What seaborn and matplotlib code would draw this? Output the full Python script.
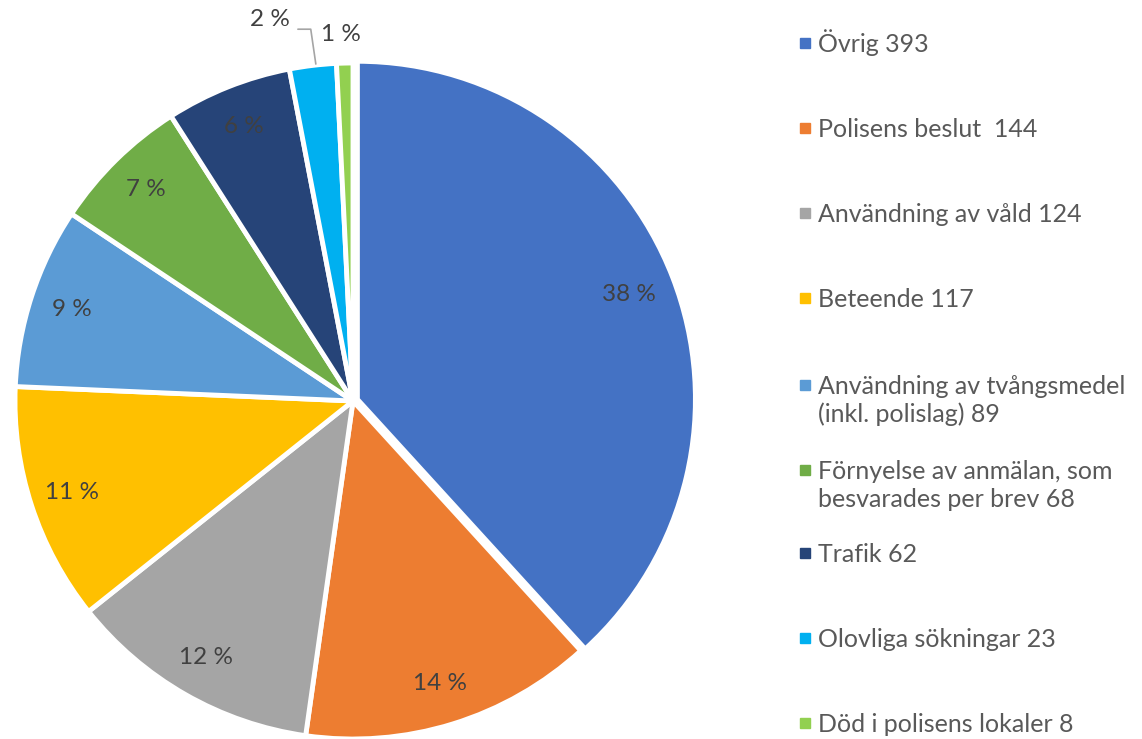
import matplotlib
matplotlib.use("Agg")
import matplotlib.pyplot as plt
import numpy as np
import seaborn as sns

categories = ["Övrig", "Polisens beslut ", "Användning av våld", "Beteende",
              "Användning av tvångsmedel\n(inkl. polislag)",
              "Förnyelse av anmälan, som\nbesvarades per brev",
              "Trafik", "Olovliga sökningar", "Död i polisens lokaler"]
counts = [393, 144, 124, 117, 89, 68, 62, 23, 8]
colors = ["#4472C4", "#ED7D31", "#A5A5A5", "#FFC000", "#5B9BD5",
          "#70AD47", "#264478", "#00B0F0", "#92D050"]

sns.set_theme(style="white")
plt.rcParams["font.family"] = ["Lato", "DejaVu Sans"]

W, H = 1142, 739
fig = plt.figure(figsize=(W / 100, H / 100), dpi=100)
cx, cy, R = 353, 401, 338
ax = fig.add_axes([(cx - R) / W, (H - cy - R) / H, 2 * R / W, 2 * R / H])

total = sum(counts)
pcts = [c / total * 100 for c in counts]
explode = [0.014] + [0] * (len(counts) - 1)
wedges, _ = ax.pie(counts, colors=sns.color_palette(colors), startangle=90,
                   counterclock=False, explode=explode, radius=1,
                   wedgeprops=dict(edgecolor="white", linewidth=3.5))
for w in wedges:
    w.set_clip_on(False)
ax.set_xlim(-1, 1)
ax.set_ylim(-1, 1)
ax.set_aspect("equal")
ax.axis("off")

LBL = dict(fontsize=17.5, color="#404040", ha="center", va="center")

# percentage labels inside the larger slices
for p, w in zip(pcts, wedges):
    if p >= 5:
        mid = np.deg2rad((w.theta1 + w.theta2) / 2)
        r = 0.875
        ax.text(r * np.cos(mid), r * np.sin(mid), f"{p:.0f} %", **LBL)

# small slices labelled outside, one with a leader line
ax.text(-0.245, 1.128, f"{pcts[7]:.0f} %", clip_on=False, **LBL)
ax.plot([-0.163, -0.125, -0.11], [1.1, 1.1, 0.997], color="#A5A5A5",
        lw=1.2, clip_on=False)
ax.text(-0.035, 1.085, f"{pcts[8]:.0f} %", clip_on=False, **LBL)

# legend: square marker + label lines (baseline-aligned, 28px line pitch)
legend_y = [43, 128, 213, 298, 385, 470, 553, 638, 723]
for lab, n, col, y in zip(categories, counts, colors, legend_y):
    fig.patches.append(plt.Rectangle((800 / W, 1 - (y + 5) / H), 10 / W, 10 / H,
                                     transform=fig.transFigure, color=col,
                                     figure=fig))
    for k, line in enumerate(f"{lab} {n}".split("\n")):
        fig.text(818 / W, 1 - (y + 9 + 28 * k) / H, line, ha="left",
                 va="baseline", fontsize=18, color="#595959")

fig.savefig("out.png", dpi=100)
